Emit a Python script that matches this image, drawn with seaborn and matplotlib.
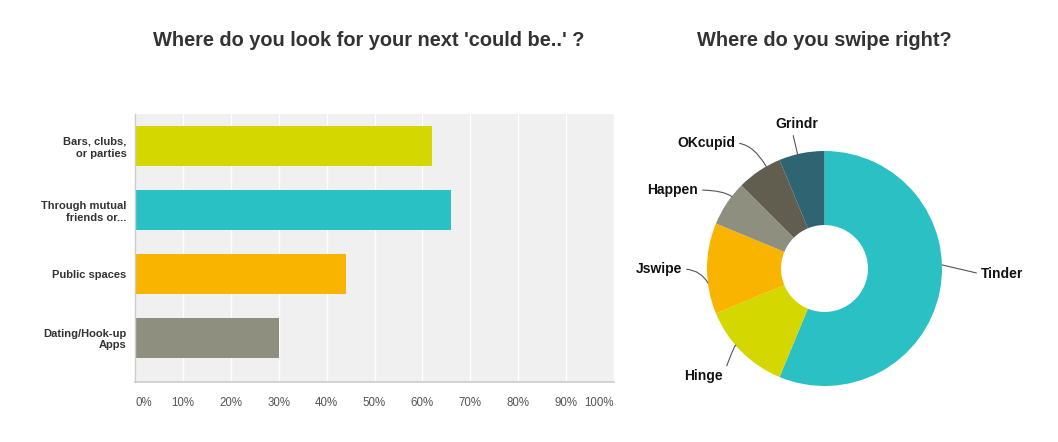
import matplotlib
matplotlib.use("Agg")
import matplotlib.pyplot as plt
import seaborn as sns
import numpy as np
import pandas as pd

# ---------------- data ----------------
bar_categories = ["Bars, clubs,\nor parties", "Through mutual\nfriends or...",
                  "Public spaces", "Dating/Hook-up\nApps"]
bar_values = [62, 66, 44, 30]
bar_colors = ["#D4D700", "#2AC1C4", "#F9B400", "#8F8F7F"]
x_ticks = [0, 10, 20, 30, 40, 50, 60, 70, 80, 90, 100]
x_tick_labels = ["0%", "10%", "20%", "30%", "40%", "50%", "60%", "70%", "80%", "90%", "100%"]

pie_labels = ["Tinder", "Hinge", "Jswipe", "Happen", "OKcupid", "Grindr"]
pie_values = [9, 2, 2, 1, 1, 1]
pie_colors = ["#2AC0C4", "#D4D700", "#F9B400", "#8F8F7F", "#625E4F", "#2F6473"]

left_title = "Where do you look for your next 'could be..' ?"
right_title = "Where do you swipe right?"

# ---------------- style ----------------
sns.set_style("white")
plt.rcParams["font.family"] = ["Liberation Sans", "DejaVu Sans"]

W, H = 1058, 442
fig = plt.figure(figsize=(W / 100, H / 100), dpi=100)
fig.patch.set_facecolor("white")

# ---------------- bar chart ----------------
ax = fig.add_axes([135 / W, 1 - 382 / H, 479 / W, 268 / H])
df = pd.DataFrame({"category": bar_categories, "value": bar_values})
sns.barplot(data=df, x="value", y="category", hue="category", palette=bar_colors,
            legend=False, width=0.625, orient="h", saturation=1, ax=ax,
            linewidth=0, edgecolor="none")
ax.set_facecolor("#F0F0F0")
ax.set_xlim(0, 100)
ax.set_ylim(3.69, -0.5)
ax.set_xticks(x_ticks)
ax.set_xticklabels(x_tick_labels, fontsize=8.3, color="#555555")
ax.tick_params(axis="x", length=0, pad=11)
ax.tick_params(axis="y", length=0, pad=6)
for lbl in ax.get_yticklabels():
    lbl.set_fontsize(8)
    lbl.set_fontweight("bold")
    lbl.set_color("#333333")
    lbl.set_horizontalalignment("right")
    lbl.set_multialignment("right")
xl = ax.get_xticklabels()
xl[0].set_horizontalalignment("left")
xl[-1].set_horizontalalignment("right")
ax.set_xlabel("")
ax.set_ylabel("")
ax.grid(axis="x", color="white", lw=1)
ax.grid(axis="y", visible=False)
ax.set_axisbelow(True)
for s in ["top", "right"]:
    ax.spines[s].set_visible(False)
ax.spines["left"].set_color("#CCCCCC")
ax.spines["bottom"].set_color("#CCCCCC")
ax.spines["left"].set_linewidth(1)
ax.spines["bottom"].set_linewidth(1.2)

fig.text(369 / W, 1 - 40 / H, left_title, ha="center", va="center",
         fontsize=14.4, fontweight="bold", color="#333333")
fig.text(824 / W, 1 - 40 / H, right_title, ha="center", va="center",
         fontsize=14.4, fontweight="bold", color="#333333")

# ---------------- donut ----------------
R = 117.5
cx, cy = 824.5, 268.5
x0, x1, y0, y1 = -1.7, 1.8, -1.1, 1.5
ax2 = fig.add_axes([(cx + x0 * R) / W, 1 - (cy - y0 * R) / H,
                    (x1 - x0) * R / W, (y1 - y0) * R / H])
wedges, _ = ax2.pie(pie_values, colors=pie_colors, startangle=90, counterclock=False,
                    radius=1, center=(0, 0),
                    wedgeprops=dict(width=0.63, edgecolor="none", linewidth=0))
ax2.set_xlim(x0, x1)
ax2.set_ylim(y0, y1)
ax2.set_aspect("equal", adjustable="box")
ax2.axis("off")

# label layout: (x, y, ha, relpos, angleA, attach-angle offset, angleB or None, straight)
label_layout = {
    "Tinder": (1.332, -0.047, "left", (0, 0.5), 0, 13, None, True),
    "Hinge": (-0.864, -0.915, "right", (1, 0.5), 70, -4, 100, False),
    "Jswipe": (-1.213, -0.004, "right", (1, 0.5), 0, 7, 120, False),
    "Happen": (-1.077, 0.668, "right", (1, 0.5), 0, -4, None, False),
    "OKcupid": (-0.762, 1.068, "right", (1, 0.5), 0, -4, None, False),
    "Grindr": (-0.238, 1.23, "center", (0.4, 0), 90, 2, None, False),
}
for w, name in zip(wedges, pie_labels):
    lx, ly, ha, rp, aA, off, aB, straight = label_layout[name]
    mid = (w.theta1 + w.theta2) / 2 + off
    if aB is None:
        aB = mid
    px, py = np.cos(np.radians(mid)), np.sin(np.radians(mid))
    cs = "arc3,rad=0" if straight else f"angle3,angleA={aA},angleB={aB}"
    ax2.annotate(name, xy=(px, py), xytext=(lx, ly), ha=ha, va="center",
                 fontsize=10, fontweight="bold", color="#111111",
                 arrowprops=dict(arrowstyle="-", color="#555555", lw=0.8,
                                 shrinkA=1, shrinkB=0, relpos=rp,
                                 connectionstyle=cs))

fig.savefig("out.png", dpi=100, facecolor="white")
